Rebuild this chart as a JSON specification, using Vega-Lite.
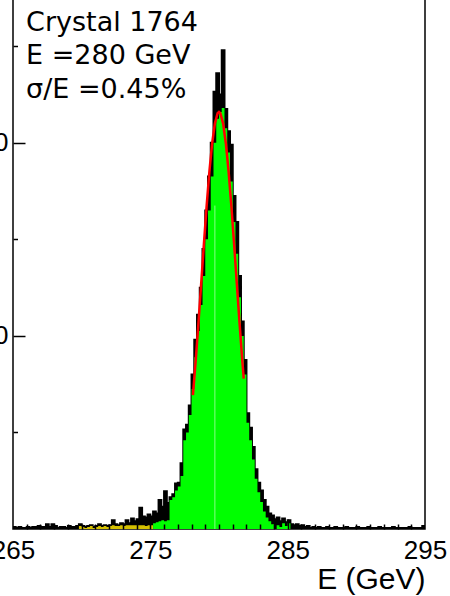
{
  "$schema": "https://vega.github.io/schema/vega-lite/v6.json",
  "width": 412,
  "height": 531,
  "autosize": "none",
  "padding": {"left": 13, "right": 25, "top": -2, "bottom": 67},
  "config": {
    "font": "Liberation Sans",
    "view": {"stroke": "#000", "strokeWidth": 1.5},
    "axis": {"grid": false, "domain": false, "labelColor": "#000", "titleColor": "#000", "tickColor": "#000", "labelFont": "Liberation Sans", "titleFont": "Liberation Sans"}
  },
  "datasets": {
    "hist": [
      {"E":265.0,"total":2,"green":0,"yellow":0},{"E":265.2,"total":1,"green":0,"yellow":0},{"E":265.4,"total":2,"green":0,"yellow":0},{"E":265.6,"total":1,"green":0,"yellow":0},{"E":265.8,"total":1,"green":0,"yellow":0},
      {"E":266.0,"total":2,"green":0,"yellow":0},{"E":266.2,"total":1,"green":0,"yellow":0},{"E":266.4,"total":2,"green":0,"yellow":0},{"E":266.6,"total":2,"green":0,"yellow":0},{"E":266.8,"total":3,"green":0,"yellow":0},
      {"E":267.0,"total":2,"green":0,"yellow":0},{"E":267.2,"total":2,"green":0,"yellow":0},{"E":267.4,"total":5,"green":0,"yellow":0},{"E":267.6,"total":2,"green":0,"yellow":0},{"E":267.8,"total":5,"green":0,"yellow":0},
      {"E":268.0,"total":3,"green":0,"yellow":0},{"E":268.2,"total":1,"green":0,"yellow":0},{"E":268.4,"total":2,"green":0,"yellow":0},{"E":268.6,"total":2,"green":0,"yellow":0},{"E":268.8,"total":1,"green":0,"yellow":0},
      {"E":269.0,"total":3,"green":0,"yellow":0},{"E":269.2,"total":2,"green":0,"yellow":0},{"E":269.4,"total":2,"green":0,"yellow":0},{"E":269.6,"total":3,"green":0,"yellow":0},{"E":269.8,"total":5,"green":0,"yellow":3},
      {"E":270.0,"total":3,"green":0,"yellow":2},{"E":270.2,"total":2,"green":0,"yellow":1},{"E":270.4,"total":3,"green":0,"yellow":2},{"E":270.6,"total":4,"green":0,"yellow":3},{"E":270.8,"total":2,"green":0,"yellow":1},
      {"E":271.0,"total":3,"green":0,"yellow":2},{"E":271.2,"total":5,"green":0,"yellow":3},{"E":271.4,"total":3,"green":0,"yellow":2},{"E":271.6,"total":4,"green":0,"yellow":3},{"E":271.8,"total":3,"green":0,"yellow":2},
      {"E":272.0,"total":4,"green":0,"yellow":3},{"E":272.2,"total":9,"green":0,"yellow":4},{"E":272.4,"total":5,"green":0,"yellow":3},{"E":272.6,"total":4,"green":0,"yellow":3},{"E":272.8,"total":6,"green":0,"yellow":4},
      {"E":273.0,"total":5,"green":0,"yellow":3},{"E":273.2,"total":9,"green":0,"yellow":4},{"E":273.4,"total":6,"green":0,"yellow":4},{"E":273.6,"total":11,"green":0,"yellow":4},{"E":273.8,"total":8,"green":0,"yellow":4},
      {"E":274.0,"total":10,"green":0,"yellow":4},{"E":274.2,"total":22,"green":0,"yellow":4},{"E":274.4,"total":13,"green":0,"yellow":4},{"E":274.6,"total":12,"green":0,"yellow":3},{"E":274.8,"total":15,"green":0,"yellow":4},
      {"E":275.0,"total":13,"green":0,"yellow":4},{"E":275.2,"total":18,"green":6,"yellow":0},{"E":275.4,"total":16,"green":7,"yellow":0},{"E":275.6,"total":30,"green":8,"yellow":0},{"E":275.8,"total":23,"green":9,"yellow":0},
      {"E":276.0,"total":39,"green":8,"yellow":0},{"E":276.2,"total":27,"green":9,"yellow":0},{"E":276.4,"total":33,"green":30,"yellow":0},{"E":276.6,"total":36,"green":33,"yellow":0},{"E":276.8,"total":47,"green":40,"yellow":0},
      {"E":277.0,"total":48,"green":44,"yellow":0},{"E":277.2,"total":68,"green":55,"yellow":0},{"E":277.4,"total":103,"green":92,"yellow":0},{"E":277.6,"total":108,"green":100,"yellow":0},{"E":277.8,"total":128,"green":118,"yellow":0},
      {"E":278.0,"total":160,"green":145,"yellow":0},{"E":278.2,"total":196,"green":178,"yellow":0},{"E":278.4,"total":222,"green":205,"yellow":0},{"E":278.6,"total":250,"green":232,"yellow":0},{"E":278.8,"total":290,"green":262,"yellow":0},
      {"E":279.0,"total":330,"green":300,"yellow":0},{"E":279.2,"total":365,"green":330,"yellow":0},{"E":279.4,"total":400,"green":365,"yellow":0},{"E":279.6,"total":453,"green":400,"yellow":0},{"E":279.8,"total":472,"green":425,"yellow":0},
      {"E":280.0,"total":450,"green":432,"yellow":0},{"E":280.2,"total":496,"green":436,"yellow":0},{"E":280.4,"total":435,"green":415,"yellow":0},{"E":280.6,"total":412,"green":390,"yellow":0},{"E":280.8,"total":398,"green":360,"yellow":0},
      {"E":281.0,"total":345,"green":318,"yellow":0},{"E":281.2,"total":318,"green":285,"yellow":0},{"E":281.4,"total":262,"green":240,"yellow":0},{"E":281.6,"total":215,"green":200,"yellow":0},{"E":281.8,"total":175,"green":160,"yellow":0},
      {"E":282.0,"total":120,"green":110,"yellow":0},{"E":282.2,"total":105,"green":92,"yellow":0},{"E":282.4,"total":85,"green":72,"yellow":0},{"E":282.6,"total":62,"green":52,"yellow":0},{"E":282.8,"total":48,"green":38,"yellow":0},
      {"E":283.0,"total":40,"green":28,"yellow":0},{"E":283.2,"total":30,"green":18,"yellow":0},{"E":283.4,"total":23,"green":12,"yellow":0},{"E":283.6,"total":16,"green":8,"yellow":0},{"E":283.8,"total":14,"green":5,"yellow":0},
      {"E":284.0,"total":10,"green":0,"yellow":0},{"E":284.2,"total":12,"green":4,"yellow":0},{"E":284.4,"total":8,"green":2,"yellow":0},{"E":284.6,"total":11,"green":6,"yellow":0},{"E":284.8,"total":7,"green":3,"yellow":0},
      {"E":285.0,"total":9,"green":6,"yellow":0},{"E":285.2,"total":5,"green":0,"yellow":0},{"E":285.4,"total":4,"green":0,"yellow":0},{"E":285.6,"total":5,"green":0,"yellow":0},{"E":285.8,"total":3,"green":0,"yellow":0},
      {"E":286.0,"total":4,"green":0,"yellow":0},{"E":286.2,"total":2,"green":0,"yellow":0},{"E":286.4,"total":3,"green":0,"yellow":0},{"E":286.6,"total":1,"green":0,"yellow":0},{"E":286.8,"total":2,"green":0,"yellow":0},
      {"E":287.0,"total":1,"green":0,"yellow":0},{"E":287.2,"total":2,"green":0,"yellow":0},{"E":287.4,"total":1,"green":0,"yellow":0},{"E":287.6,"total":1,"green":0,"yellow":0},{"E":287.8,"total":2,"green":0,"yellow":0},
      {"E":288.0,"total":1,"green":0,"yellow":0},{"E":288.2,"total":1,"green":0,"yellow":0},{"E":288.4,"total":2,"green":0,"yellow":0},{"E":288.6,"total":1,"green":0,"yellow":0},{"E":288.8,"total":1,"green":0,"yellow":0},
      {"E":289.0,"total":1,"green":0,"yellow":0},{"E":289.2,"total":2,"green":0,"yellow":0},{"E":289.4,"total":1,"green":0,"yellow":0},{"E":289.6,"total":1,"green":0,"yellow":0},{"E":289.8,"total":1,"green":0,"yellow":0},
      {"E":290.0,"total":2,"green":0,"yellow":0},{"E":290.2,"total":1,"green":0,"yellow":0},{"E":290.4,"total":1,"green":0,"yellow":0},{"E":290.6,"total":1,"green":0,"yellow":0},{"E":290.8,"total":2,"green":0,"yellow":0},
      {"E":291.0,"total":1,"green":0,"yellow":0},{"E":291.2,"total":1,"green":0,"yellow":0},{"E":291.4,"total":1,"green":0,"yellow":0},{"E":291.6,"total":2,"green":0,"yellow":0},{"E":291.8,"total":1,"green":0,"yellow":0},
      {"E":292.0,"total":1,"green":0,"yellow":0},{"E":292.2,"total":1,"green":0,"yellow":0},{"E":292.4,"total":1,"green":0,"yellow":0},{"E":292.6,"total":2,"green":0,"yellow":0},{"E":292.8,"total":1,"green":0,"yellow":0},
      {"E":293.0,"total":1,"green":0,"yellow":0},{"E":293.2,"total":1,"green":0,"yellow":0},{"E":293.4,"total":1,"green":0,"yellow":0},{"E":293.6,"total":1,"green":0,"yellow":0},{"E":293.8,"total":2,"green":0,"yellow":0},
      {"E":294.0,"total":1,"green":0,"yellow":0},{"E":294.2,"total":1,"green":0,"yellow":0},{"E":294.4,"total":1,"green":0,"yellow":0},{"E":294.6,"total":1,"green":0,"yellow":0},{"E":294.8,"total":3,"green":0,"yellow":0},
      {"E":295.0,"total":3,"green":0,"yellow":0}
    ],
    "fit": [
      {"E":278.1,"fit":138.6},{"E":278.3,"fit":173.9},{"E":278.5,"fit":212.7},{"E":278.7,"fit":253.7},{"E":278.9,"fit":295.1},
      {"E":279.1,"fit":334.7},{"E":279.3,"fit":370.2},{"E":279.5,"fit":399.3},{"E":279.7,"fit":419.9},{"E":279.9,"fit":430.6},
      {"E":280.0,"fit":432.0},{"E":280.1,"fit":430.6},{"E":280.3,"fit":419.9},{"E":280.5,"fit":399.3},{"E":280.7,"fit":370.2},
      {"E":280.9,"fit":334.7},{"E":281.1,"fit":295.1},{"E":281.3,"fit":253.7},{"E":281.5,"fit":212.7},{"E":281.7,"fit":173.9},
      {"E":281.8,"fit":155.7}
    ],
    "seam": [{"E": 279.7, "low": 0, "high": 335}],
    "notes": [
      {"E": 265.95, "count": 516, "label": "Crystal 1764"},
      {"E": 265.95, "count": 482, "label": "E =280 GeV"},
      {"E": 265.95, "count": 446, "label": "σ/E =0.45%"}
    ]
  },
  "layer": [
    {
      "data": {"name": "hist"},
      "encoding": {
        "x": {"field": "E", "type": "quantitative",
              "scale": {"domain": [265, 295], "nice": false, "zero": false},
              "axis": {"orient": "bottom", "values": [265, 275, 285, 295], "ticks": false, "labelFontSize": 26, "labelPadding": 8, "labelFlush": false,
                       "title": "E (GeV)", "titleFontSize": 30, "titleFontWeight": "normal", "titleAnchor": "end", "titleAlign": "right", "titleBaseline": "alphabetic", "titleX": 412, "titleY": 59}},
        "y": {"field": "total", "type": "quantitative",
              "scale": {"domain": [0, 550], "nice": false},
              "axis": {"orient": "left", "values": [200, 400], "ticks": false, "labelFontSize": 26, "labelPadding": 5, "title": null}}
      },
      "layer": [
        {"mark": {"type": "area", "interpolate": "step-after", "color": "#000"}},
        {"mark": {"type": "line", "interpolate": "step-after", "color": "#000", "strokeWidth": 2}},
        {"mark": {"type": "area", "interpolate": "step-after", "color": "#d4c000"}, "encoding": {"y": {"field": "yellow", "type": "quantitative"}}},
        {"mark": {"type": "area", "interpolate": "step-after", "color": "#00ff00"}, "encoding": {"y": {"field": "green", "type": "quantitative"}}},
        {"data": {"name": "seam"},
         "mark": {"type": "rule", "color": "#a8ffa8", "strokeWidth": 0.8},
         "encoding": {"y": {"field": "low", "type": "quantitative"}, "y2": {"field": "high"}}},
        {"data": {"name": "fit"},
         "mark": {"type": "line", "color": "#ff0000", "strokeWidth": 2.5},
         "encoding": {"y": {"field": "fit", "type": "quantitative"}}},
        {"data": {"name": "notes"},
         "mark": {"type": "text", "align": "left", "baseline": "alphabetic", "font": "DejaVu Sans", "fontSize": 27, "color": "#000"},
         "encoding": {"y": {"field": "count", "type": "quantitative"}, "text": {"field": "label"}}}
      ]
    },
    {
      "data": {"name": "hist"},
      "mark": {"type": "point", "opacity": 0},
      "encoding": {
        "x": {"field": "E", "type": "quantitative",
              "scale": {"domain": [265, 295], "nice": false, "zero": false},
              "axis": {"orient": "bottom", "values": [266,267,268,269,270,271,272,273,274,276,277,278,279,280,281,282,283,284,286,287,288,289,290,291,292,293,294],
                       "labels": false, "tickSize": -5, "tickWidth": 1.5, "title": null, "zindex": 1}},
        "y": {"field": "total", "type": "quantitative",
              "scale": {"domain": [0, 550], "nice": false},
              "axis": {"orient": "left", "values": [100, 300, 500], "labels": false, "tickSize": -4.5, "tickWidth": 1.5, "title": null, "zindex": 1}}
      }
    },
    {
      "data": {"name": "hist"},
      "mark": {"type": "point", "opacity": 0},
      "encoding": {
        "x": {"field": "E", "type": "quantitative",
              "scale": {"domain": [265, 295], "nice": false, "zero": false},
              "axis": {"orient": "bottom", "values": [275, 285], "labels": false, "tickSize": -10, "tickWidth": 1.5, "title": null, "zindex": 1}},
        "y": {"field": "total", "type": "quantitative",
              "scale": {"domain": [0, 550], "nice": false},
              "axis": {"orient": "left", "values": [200, 400], "labels": false, "tickSize": -12, "tickWidth": 1.5, "title": null, "zindex": 1}}
      }
    }
  ],
  "resolve": {"scale": {"x": "independent", "y": "independent"}}
}
